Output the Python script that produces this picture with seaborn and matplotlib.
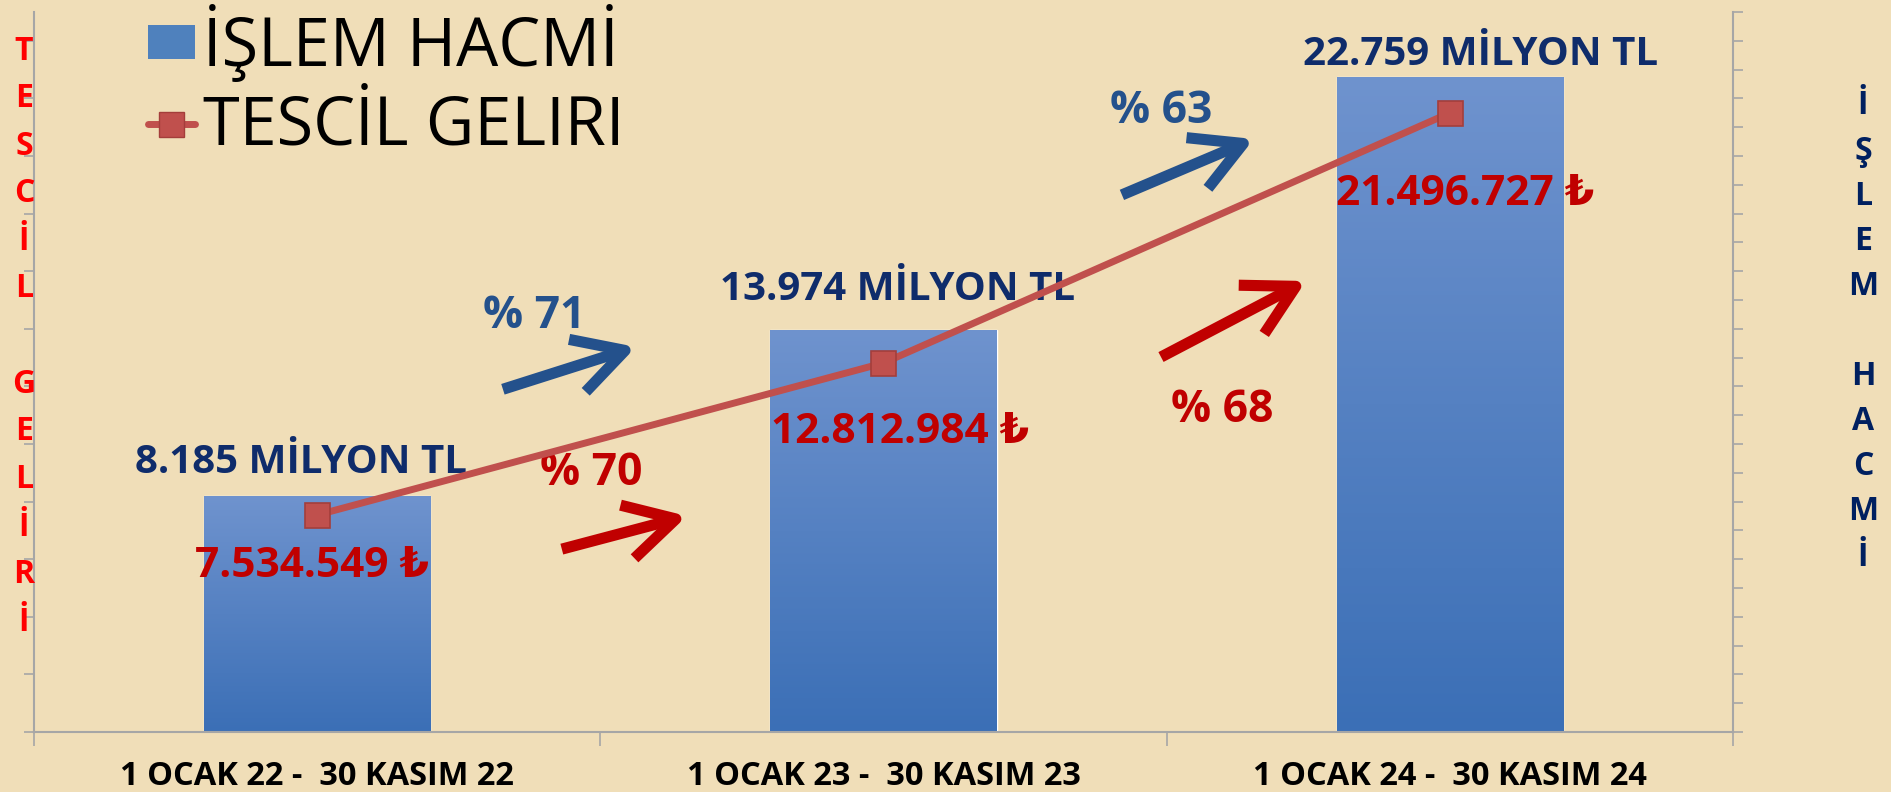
import numpy as np
import pandas as pd
import matplotlib
matplotlib.use("Agg")
import matplotlib.pyplot as plt
import seaborn as sns
from matplotlib.patches import Patch
from matplotlib.lines import Line2D
from matplotlib.colors import LinearSegmentedColormap

# data
periods = ["1 OCAK 22 -  30 KASIM 22", "1 OCAK 23 -  30 KASIM 23", "1 OCAK 24 -  30 KASIM 24"]
islem_hacmi = [8185, 13974, 22759]             # milyon TL (right axis)
tescil_geliri = [7534549, 12812984, 21496727]  # TL (left axis)
hacim_labels = ["8.185 MİLYON TL", "13.974 MİLYON TL", "22.759 MİLYON TL"]
gelir_labels = ["7.534.549 ₺", "12.812.984 ₺", "21.496.727 ₺"]
hacim_artis = ["% 71", "% 63"]
gelir_artis = ["% 70", "% 68"]

df = pd.DataFrame({"Dönem": periods, "Hacim": islem_hacmi, "Gelir": tescil_geliri})

NAVY = "#0F2C6B"
DARKRED = "#C00000"
BLUE_ARROW = "#24518C"
BG = "#F0DEB8"

sns.set_style("white")
plt.rcParams["font.family"] = ["Open Sans", "DejaVu Sans"]

W, H = 1891, 792
fig = plt.figure(figsize=(W / 100, H / 100), dpi=100, facecolor=BG)
ax = fig.add_axes([34 / W, (H - 732) / H, (1733 - 34) / W, (732 - 12) / H])
ax2 = ax.twinx()

# bars -> right axis
sns.barplot(data=df, x="Dönem", y="Hacim", ax=ax2, color="#4F81BD", width=0.4,
            saturation=1, zorder=2)

# gradient fill on bars
cmap = LinearSegmentedColormap.from_list("bar", ["#3B6FB6", "#6F93CE"])
grad = np.linspace(0, 1, 256).reshape(-1, 1)
for bar in list(ax2.patches):
    x0, y0 = bar.get_x(), bar.get_y()
    w, h = bar.get_width(), bar.get_height()
    im = ax2.imshow(grad, extent=[x0, x0 + w, y0, y0 + h], origin="lower", cmap=cmap,
                    aspect="auto", zorder=2.5)
    im.set_clip_path(bar)
ax2.set_ylim(0, 25000)
ax2.set_xlim(-0.5, 2.5)

# line -> left axis
sns.lineplot(data=df, x="Dönem", y="Gelir", ax=ax, color="#C0504D", linewidth=5,
             marker="s", markersize=18, markerfacecolor="#C0504D",
             markeredgecolor="#A43E3B", markeredgewidth=1.2, zorder=5)
ax.set_ylim(0, 25e6)
ax.set_xlim(-0.5, 2.5)
ax.set_zorder(ax2.get_zorder() + 1)
ax.patch.set_visible(False)
ax2.patch.set_facecolor(BG)

# axes styling
for a in (ax, ax2):
    for s in a.spines.values():
        s.set_visible(False)
    a.set_xlabel("")
    a.set_ylabel("")
ax.spines["left"].set_visible(True)
ax.spines["bottom"].set_visible(True)
ax2.spines["right"].set_visible(True)
for sp in (ax.spines["left"], ax.spines["bottom"], ax2.spines["right"]):
    sp.set_color("#A6A6A6")
    sp.set_linewidth(1.5)

ax.set_yticks(np.arange(0, 24.1e6, 2e6))
ax.set_yticklabels([])
ax.tick_params(axis="y", direction="out", length=7, width=1.2, color="#A6A6A6", left=True)
ax2.set_yticks(np.arange(0, 25001, 1000))
ax2.set_yticklabels([])
ax2.tick_params(axis="y", direction="out", length=7, width=1.2, color="#A6A6A6", right=True)

ax.set_xticks(range(len(periods)))
ax.set_xticklabels(periods, fontsize=23.5, fontweight="bold", color="black")
ax.set_xticks([-0.5, 0.5, 1.5, 2.5], minor=True)
ax.tick_params(axis="x", which="major", length=0, pad=20)
ax.tick_params(axis="x", which="minor", length=10, width=1.2, color="#A6A6A6", bottom=True)
ax2.tick_params(axis="x", length=0, labelbottom=False)

# value labels
hacim_dx = [-0.028, 0.025, 0.055]
hacim_dy = [24, 29, 16]
for i, (v, lab) in enumerate(zip(islem_hacmi, hacim_labels)):
    ax2.annotate(lab, (i + hacim_dx[i], v), xytext=(0, hacim_dy[i]), textcoords="offset points",
                 ha="center", va="center", fontsize=29, fontweight="bold", color=NAVY)

gelir_dx = [-4, 12, 11]
gelir_dy = [-37, -50, -59]
for i, (v, lab) in enumerate(zip(tescil_geliri, gelir_labels)):
    ax.annotate(lab, (i, v), xytext=(gelir_dx[i], gelir_dy[i]), textcoords="offset points",
                ha="center", va="center", fontsize=30.5, fontweight="bold", color=DARKRED,
                zorder=6)

# growth arrows (positions in right-axis units)
arrow_pos = {
    "hacim": [((0.328, 11.9e3), (0.563, 13.37e3)), ((1.421, 18.65e3), (1.654, 20.59e3))],
    "gelir": [((0.432, 6.35e3), (0.653, 7.5e3)), ((1.49, 13.02e3), (1.746, 15.66e3))],
}
label_pos = {
    "hacim": [(0.383, 14.44e3), (1.49, 21.53e3)],
    "gelir": [(0.484, 8.99e3), (1.598, 11.18e3)],
}
for key, texts, col in (("hacim", hacim_artis, BLUE_ARROW), ("gelir", gelir_artis, DARKRED)):
    for (start, end), lp, t in zip(arrow_pos[key], label_pos[key], texts):
        ax2.annotate("", xy=end, xytext=start,
                     arrowprops=dict(arrowstyle="->, head_length=1.0, head_width=0.55",
                                     mutation_scale=36, lw=8, color=col,
                                     shrinkA=0, shrinkB=0, joinstyle="round",
                                     capstyle="butt"), zorder=4)
        ax2.text(lp[0], lp[1], t, ha="center", va="center", fontsize=32,
                 fontweight="bold", color=col, zorder=4)

# legend
handles = [Patch(facecolor="#4F81BD", edgecolor="none"),
           Line2D([0], [0], color="#C0504D", lw=5, marker="s", markersize=18,
                  markerfacecolor="#C0504D", markeredgecolor="#A43E3B")]
leg = fig.legend(handles, ["İŞLEM HACMİ", "TESCİL GELIRI"], loc="upper left",
                 bbox_to_anchor=(148 / W, 1 - 4 / H), frameon=False, fontsize=48,
                 handlelength=0.7, handleheight=0.42, handletextpad=0.12,
                 labelspacing=0.16, borderpad=0, borderaxespad=0)
for t in leg.get_texts():
    t.set_color("black")

# stacked axis titles
for k, ch in enumerate(list("TESCİL GELİRİ")):
    fig.text(24 / W, 1 - (51 + k * 47.6) / H, ch, ha="center", va="center",
             fontsize=23, fontweight="bold", color="#FF0000")
for k, ch in enumerate(list("İŞLEM HACMİ")):
    fig.text(1863 / W, 1 - (106 + k * 45.1) / H, ch, ha="center", va="center",
             fontsize=23, fontweight="bold", color="#002060")

fig.savefig("out.png", dpi=100, facecolor=BG)
